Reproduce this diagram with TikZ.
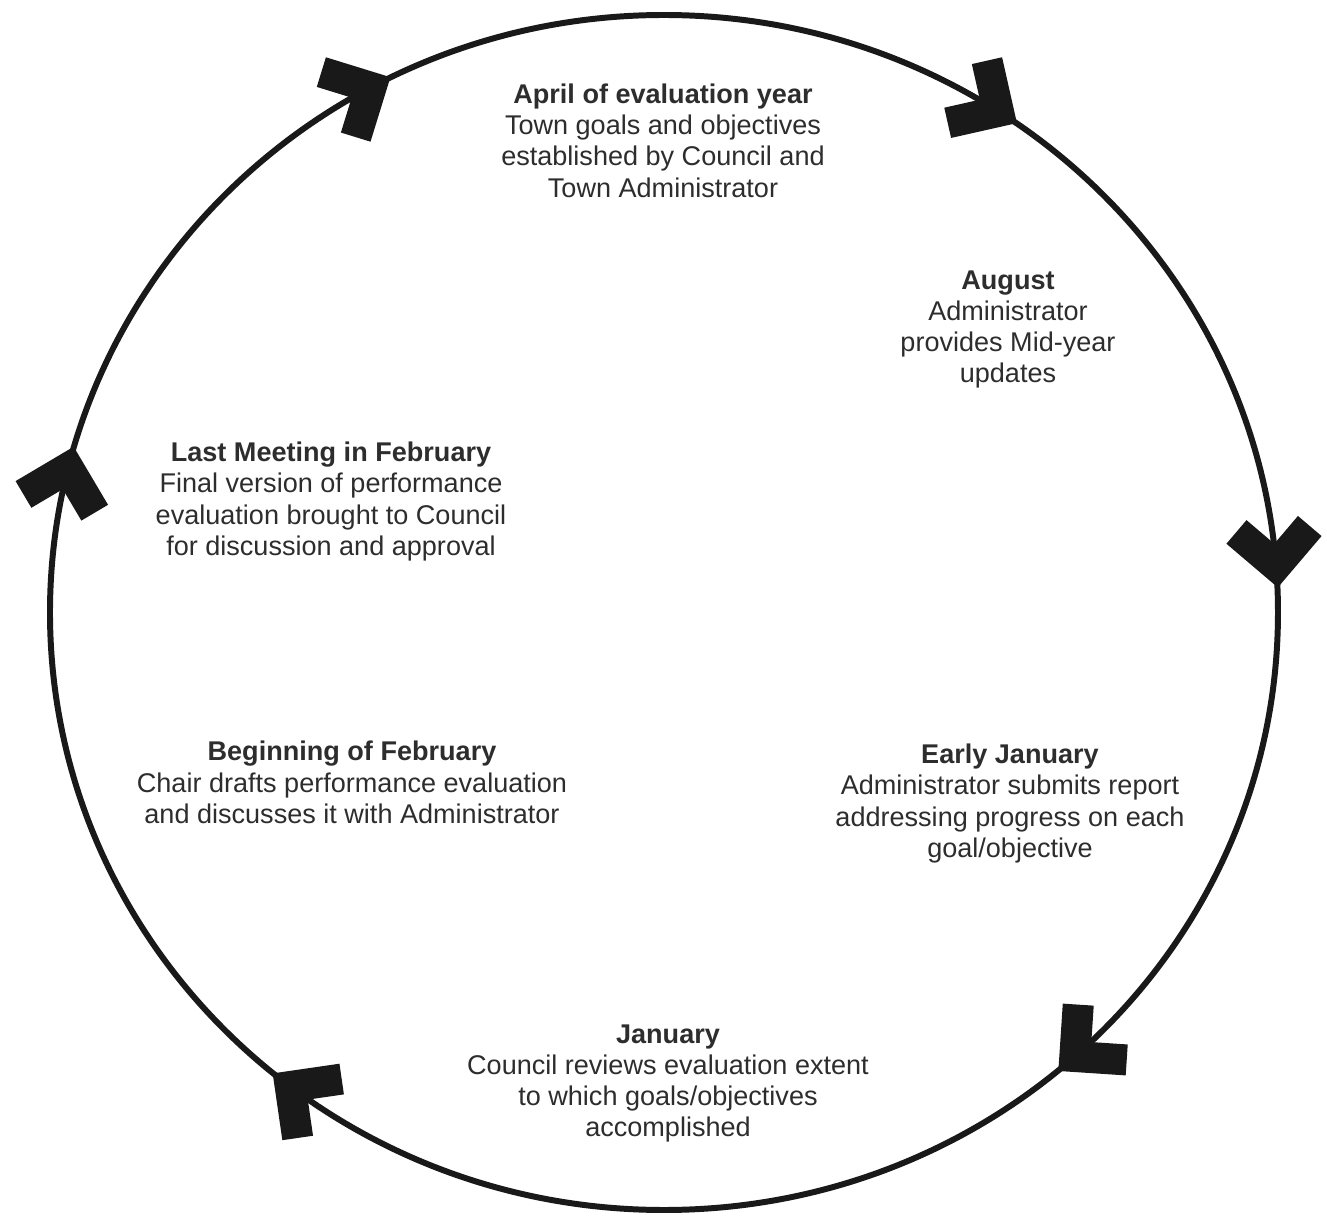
\documentclass[tikz,border=0pt]{standalone}
\usepackage{fontspec}
\setmainfont{Liberation Sans}
\usepackage{tikz}
\usetikzlibrary{calc}
\definecolor{ink}{RGB}{25,25,25}
\definecolor{txt}{RGB}{45,45,45}

\begin{document}
\begin{tikzpicture}[stage/.style={font=\fontsize{7.7}{8.9}\selectfont,align=center,text=txt,inner sep=0pt},
  chevron/.style={ink,line width=0.31cm,line join=miter}]
  \useasboundingbox (-6.64,-6.055) rectangle (6.63,6.125);
  \coordinate (c) at (0,0);
  \draw[ink,line width=1.7pt] (c) ellipse [x radius=6.14,y radius=5.975];
  \foreach \t in {118.5,57,4.5,-48,-127.5,166}{
    \pgfmathsetmacro\dir{atan2(-5.975*cos(\t),6.14*sin(\t))}
    \draw[chevron] ($(c)+(\t:6.14 and 5.975)$) ++(\dir+135:0.52) -- ++(\dir-45:0.52) -- ++(\dir-135:0.52);
  }
  \node[stage] (april) at (-0.01,4.72) {\textbf{April of evaluation year}\\Town goals and objectives\\established by Council and\\Town Administrator};
  \node[stage] (august) at (3.44,2.83) {\textbf{August}\\Administrator\\provides Mid-year\\updates};
  \node[stage] (lastfeb) at (-3.33,1.11) {\textbf{Last Meeting in February}\\Final version of performance\\evaluation brought to Council\\for discussion and approval};
  \node[stage] (begfeb) at (-3.12,-1.70) {\textbf{Beginning of February}\\Chair drafts performance evaluation\\and discusses it with Administrator};
  \node[stage] (earlyjan) at (3.46,-1.91) {\textbf{Early January}\\Administrator submits report\\addressing progress on each\\goal/objective};
  \node[stage] (january) at (0.04,-4.71) {\textbf{January}\\Council reviews evaluation extent\\to which goals/objectives\\accomplished};
\end{tikzpicture}
\end{document}
